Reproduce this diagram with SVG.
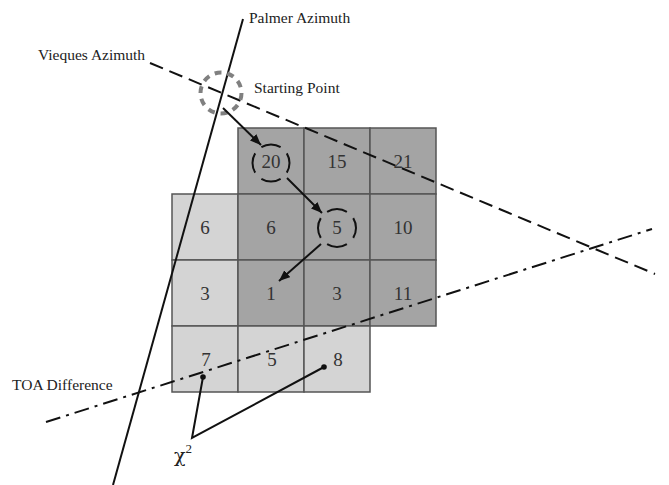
<svg xmlns="http://www.w3.org/2000/svg" width="669" height="485" viewBox="0 0 669 485">
<style>
.dk{fill:#a4a4a4;stroke:#555;stroke-width:1.5}
.lt{fill:#d4d4d4;stroke:#555;stroke-width:1.5}
.num{font-family:"Liberation Serif",serif;font-size:19px;fill:#333;text-anchor:middle}
.lbl{font-family:"Liberation Serif",serif;font-size:15.5px;fill:#222}
.ln{fill:none;stroke:#111;stroke-width:2}
</style>
<defs>
<marker id="ah" markerUnits="userSpaceOnUse" markerWidth="12" markerHeight="10" refX="11" refY="4.5" orient="auto">
<path d="M0,0 L11,4.5 L0,9 z" fill="#111"/>
</marker>
</defs>
<rect width="669" height="485" fill="#fff"/>
<g id="cells">
<g id="c20"><rect class="dk" x="238" y="128" width="66" height="66"/></g>
<g id="c15"><rect class="dk" x="304" y="128" width="66" height="66"/></g>
<g id="c21"><rect class="dk" x="370" y="128" width="66" height="66"/></g>
<g id="c6a"><rect class="lt" x="172" y="194" width="66" height="66"/></g>
<g id="c6b"><rect class="dk" x="238" y="194" width="66" height="66"/></g>
<g id="c5a"><rect class="dk" x="304" y="194" width="66" height="66"/></g>
<g id="c10"><rect class="dk" x="370" y="194" width="66" height="66"/></g>
<g id="c3a"><rect class="lt" x="172" y="260" width="66" height="66"/></g>
<g id="c1"><rect class="dk" x="238" y="260" width="66" height="66"/></g>
<g id="c3b"><rect class="dk" x="304" y="260" width="66" height="66"/></g>
<g id="c11"><rect class="dk" x="370" y="260" width="66" height="66"/></g>
<g id="c7"><rect class="lt" x="172" y="326" width="66" height="66"/></g>
<g id="c5b"><rect class="lt" x="238" y="326" width="66" height="66"/></g>
<g id="c8"><rect class="lt" x="304" y="326" width="66" height="66"/></g>
</g>
<g id="connectors">
<line id="palmer" class="ln" x1="243" y1="19" x2="113" y2="485"/>
<line id="vieques" class="ln" x1="150" y1="63" x2="655" y2="274" stroke-dasharray="14 7"/>
<line id="toa" class="ln" x1="46" y1="422" x2="652" y2="229" stroke-dasharray="15 6 3 6"/>
<circle id="start" cx="221" cy="93" r="20.5" fill="none" stroke="#808080" stroke-width="4" pathLength="130" stroke-dasharray="7 6"/>
<circle cx="271" cy="163" r="18.5" fill="none" stroke="#111" stroke-width="2" pathLength="40" stroke-dasharray="7 3" stroke-dashoffset="3.5"/>
<circle cx="337" cy="228" r="19" fill="none" stroke="#111" stroke-width="2" pathLength="40" stroke-dasharray="7 3" stroke-dashoffset="3.5"/>
<line class="ln" x1="223" y1="108" x2="261" y2="145" marker-end="url(#ah)"/>
<line class="ln" x1="287" y1="178" x2="322" y2="213" marker-end="url(#ah)"/>
<line class="ln" x1="321" y1="244" x2="279" y2="281" marker-end="url(#ah)"/>
<polyline class="ln" points="203,377 192,438 324,367"/>
<circle cx="203" cy="377" r="2.8" fill="#111"/>
<circle cx="324" cy="367" r="2.8" fill="#111"/>
</g>
<g id="numbers">
<text class="num" x="271" y="168">20</text>
<text class="num" x="337" y="168">15</text>
<text class="num" x="403" y="168">21</text>
<text class="num" x="205" y="234">6</text>
<text class="num" x="271" y="234">6</text>
<text class="num" x="337" y="234">5</text>
<text class="num" x="403" y="234">10</text>
<text class="num" x="205" y="300">3</text>
<text class="num" x="271" y="300">1</text>
<text class="num" x="337" y="300">3</text>
<text class="num" x="403" y="300">11</text>
<text class="num" x="206" y="366">7</text>
<text class="num" x="272" y="366">5</text>
<text class="num" x="338" y="366">8</text>
</g>
<g id="labels">
<text class="lbl" x="249" y="23">Palmer Azimuth</text>
<text class="lbl" x="38" y="60">Vieques Azimuth</text>
<text class="lbl" x="254" y="93">Starting Point</text>
<text class="lbl" x="12" y="390">TOA Difference</text>
<text x="174" y="462" font-family="'DejaVu Serif',serif" font-size="19" fill="#222">χ<tspan font-family="'Liberation Serif',serif" font-size="13" dy="-9">2</tspan></text>
</g>
</svg>
